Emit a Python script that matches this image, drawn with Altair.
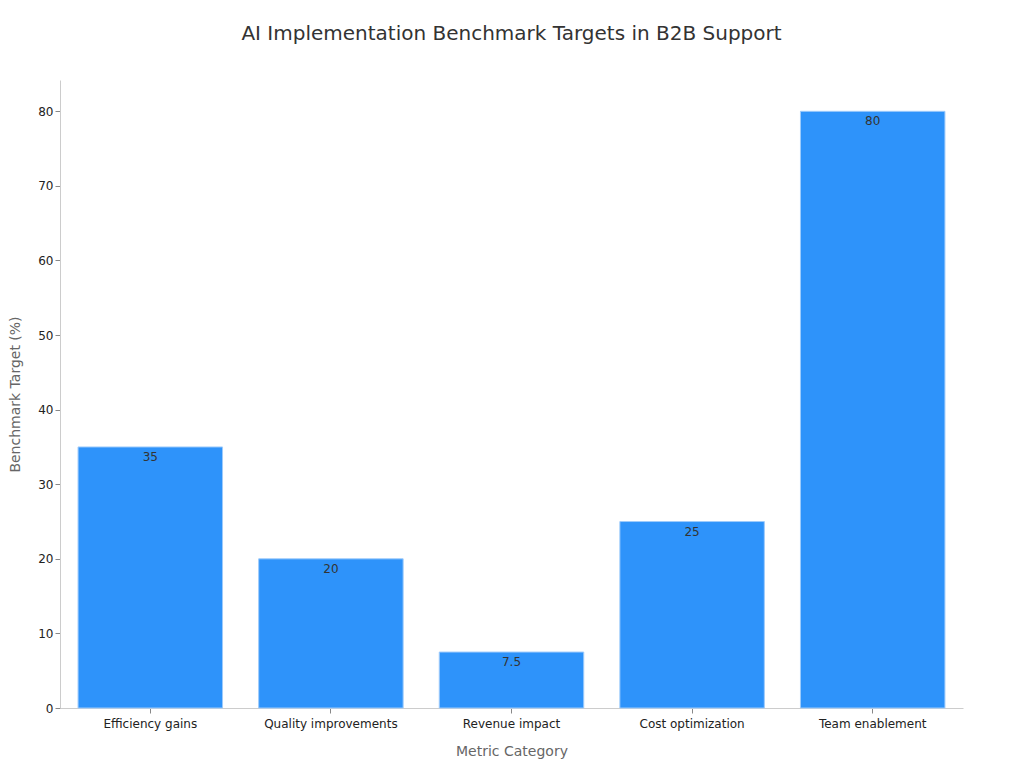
import altair as alt
import pandas as pd

categories = ["Efficiency gains", "Quality improvements", "Revenue impact", "Cost optimization", "Team enablement"]
values = [35, 20, 7.5, 25, 80]
labels = ["35", "20", "7.5", "25", "80"]

df = pd.DataFrame({"category": categories, "value": values, "label": labels})

FONT = "DejaVu Sans"

x = alt.X("category:N", sort=categories, title="Metric Category",
          scale=alt.Scale(paddingInner=0.2, paddingOuter=0.1),
          axis=alt.Axis(labelAngle=0, labelFontSize=12, labelColor="#222222",
                        titleFontSize=14, titleColor="#666666", titleFontWeight="normal",
                        titlePadding=15, domainColor="#cccccc", tickColor="#888888",
                        labelPadding=5))
y = alt.Y("value:Q", title="Benchmark Target (%)",
          scale=alt.Scale(domain=[0, 84.2], nice=False),
          axis=alt.Axis(values=[0, 10, 20, 30, 40, 50, 60, 70, 80], labelFontSize=12,
                        labelColor="#222222", titleFontSize=14, titleColor="#666666",
                        titleFontWeight="normal", domainColor="#cccccc", tickColor="#888888",
                        grid=False, titlePadding=15))

bars = alt.Chart(df).mark_bar(color="#2E93FA", stroke="#9ecbfb", strokeWidth=1).encode(x=x, y=y)
text = alt.Chart(df).mark_text(baseline="top", dy=5, fontSize=12, color="#333333", font=FONT).encode(
    x=alt.X("category:N", sort=categories), y="value:Q", text="label:N")

chart = (bars + text).properties(
    width=903, height=628,
    autosize=alt.AutoSizeParams(type="none"),
    padding={"left": 52, "top": 72, "right": 45, "bottom": 56},
    title=alt.Title("AI Implementation Benchmark Targets in B2B Support", fontSize=20,
                    fontWeight="normal", color="#333333", font=FONT, offset=36),
).configure(font=FONT).configure_view(stroke=None).configure_axis(labelFont=FONT, titleFont=FONT)

chart.save("out.html", embed_options={"renderer": "svg", "actions": False})
